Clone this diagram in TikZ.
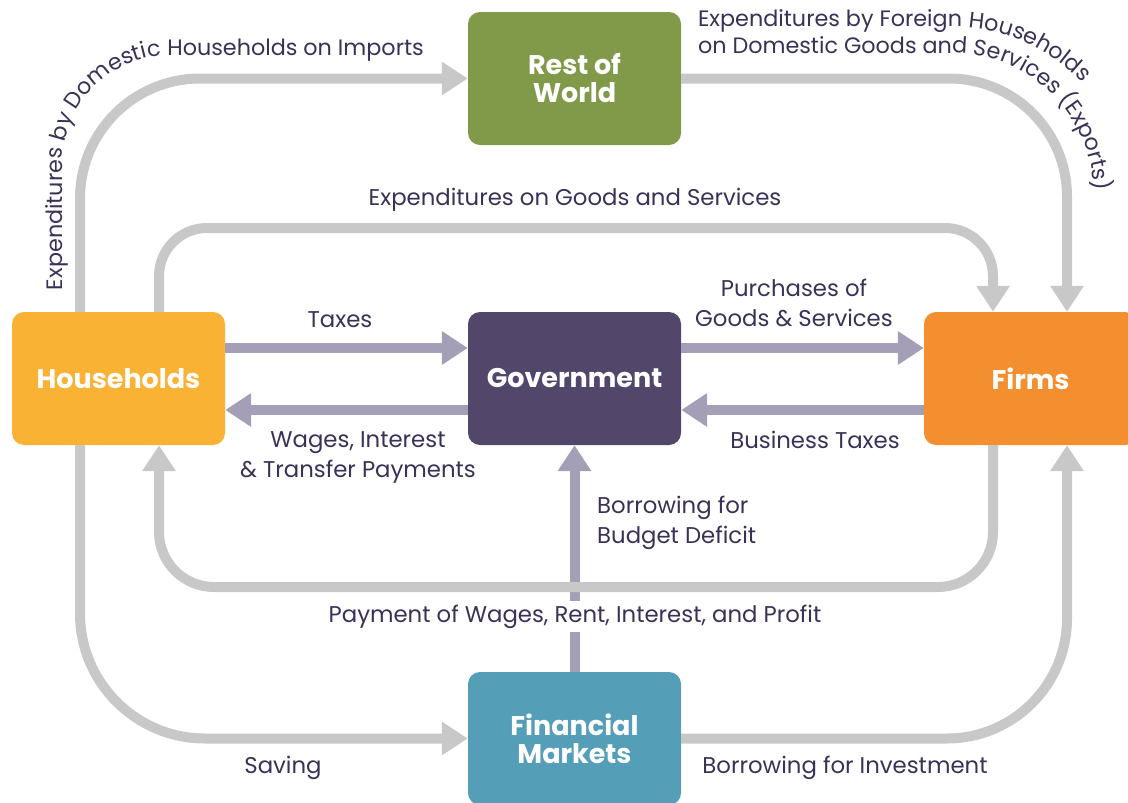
\documentclass[tikz,border=0pt]{standalone}
\usepackage{fontspec}
\setmainfont{Poppins}
\usetikzlibrary{arrows.meta,decorations.text}
\definecolor{hhcol}{HTML}{F9B234}
\definecolor{govcol}{HTML}{52466A}
\definecolor{firmcol}{HTML}{F48F2F}
\definecolor{rowcol}{HTML}{819A4A}
\definecolor{fmcol}{HTML}{549EB7}
\definecolor{flowgray}{HTML}{C8C8C8}
\definecolor{flowpurple}{HTML}{A49EB6}
\definecolor{txtcol}{HTML}{3B3157}
\newcommand{\lblfont}{\fontsize{22.8}{30}\selectfont}
\newcommand{\curvefont}{\fontsize{22.3}{30}\selectfont}
\tikzset{
  sector/.style={rounded corners=12pt, minimum width=213pt, minimum height=133pt, text=white,
    font=\bfseries\fontsize{27}{28}\selectfont, align=center, inner sep=0pt},
  gflow/.style={draw=flowgray, line width=10pt, -{Triangle[length=26pt,width=32pt]}},
  pflow/.style={draw=flowpurple, line width=10pt, -{Triangle[length=26pt,width=32pt]}},
  lbl/.style={text=txtcol, font=\lblfont, align=center, inner sep=1pt},
}
\begin{document}
\begin{tikzpicture}[x=1pt,y=1pt]
\useasboundingbox (0,0) rectangle (1128,-803);
\clip (0,0) rectangle (1128,-803);
% boxes
\node[sector, fill=hhcol] (hh) at (118.5,-378.5) {Households};
\node[sector, fill=govcol] (gov) at (574.5,-378.5) {Government};
\node[sector, fill=firmcol] (firm) at (1030.5,-378.5) {Firms};
\node[sector, fill=rowcol] (row) at (574.5,-78.5) {Rest of\\World};
\node[sector, fill=fmcol] (fm) at (574.5,-738.5) {Financial\\Markets};
% helper coordinates
\coordinate (hhA) at ([xshift=-38.5pt]hh.north);
\coordinate (hhB) at ([xshift=40.5pt]hh.north);
\coordinate (hhAs) at ([xshift=-38.5pt]hh.south);
\coordinate (hhBs) at ([xshift=40.5pt]hh.south);
\coordinate (firmA) at ([xshift=-37.5pt]firm.north);
\coordinate (firmB) at ([xshift=36.5pt]firm.north);
\coordinate (firmAs) at ([xshift=-37.5pt]firm.south);
\coordinate (firmBs) at ([xshift=36.5pt]firm.south);
\coordinate (ytopin) at (0,-228);
\coordinate (ybotin) at (0,-587);
% purple flows
\draw[pflow] ([yshift=30.5pt]hh.east) -- ([yshift=30.5pt]gov.west);
\draw[pflow] ([yshift=-31.5pt]gov.west) -- ([yshift=-31.5pt]hh.east);
\draw[pflow] ([yshift=30.5pt]gov.east) -- ([yshift=30.5pt]firm.west);
\draw[pflow] ([yshift=-31.5pt]firm.west) -- ([yshift=-31.5pt]gov.east);
\draw[pflow] (fm.north) -- (gov.south);
% label over purple vertical
\node[lbl, fill=white, anchor=base, inner sep=4pt] (lpay) at (575,-622) {Payment of Wages, Rent, Interest, and Profit};
% gray flows
\draw[gflow, rounded corners=120pt] (hhA) |- (row.west);
\draw[gflow, rounded corners=118pt] (row.east) -| (firmB);
\draw[gflow, rounded corners=48pt] (hhB) -- (hhB |- ytopin) -- (firmA |- ytopin) -- (firmA);
\draw[gflow, rounded corners=55pt] (firmAs) -- (firmAs |- ybotin) -- (hhBs |- ybotin) -- (hhBs);
\draw[gflow, rounded corners=125pt] (hhAs) |- (fm.west);
\draw[gflow, rounded corners=120pt] (fm.east) -| (firmBs);
% labels (multi-line: base anchor = last line)
\node[lbl, anchor=base] (ltax) at (340,-327) {Taxes};
\node[lbl, anchor=base] (lwag) at (358,-477) {Wages, Interest\\\& Transfer Payments};
\node[lbl, anchor=base] (lpur) at (794,-326) {Purchases of\\Goods \& Services};
\node[lbl, anchor=base] (lbus) at (815,-448) {Business Taxes};
\node[lbl, anchor=base west, align=left] (lbor) at (596,-543) {Borrowing for\\Budget Deficit};
\node[lbl, anchor=base] (lsav) at (283,-773) {Saving};
\node[lbl, anchor=base] (linv) at (845,-773) {Borrowing for Investment};
\node[lbl, anchor=base] (lexp) at (575,-205) {Expenditures on Goods and Services};
% curved labels
\path[decorate, decoration={text along path, text color=txtcol,
  text={|\curvefont|Expenditures by Domestic Households on Imports}}]
  (62,-290) -- (62,-165) arc[start angle=180, end angle=90, radius=110] -- (480,-55);
\path[decorate, decoration={text along path, text color=txtcol,
  text={|\curvefont|Expenditures by Foreign Households}}]
  (698,-27) -- (955,-27) arc[start angle=90, end angle=0, radius=172] -- (1127,-300);
\path[decorate, decoration={text along path, text color=txtcol,
  text={|\curvefont|on Domestic Goods and Services (Exports)}}]
  (698,-53) -- (952,-53) arc[start angle=90, end angle=0, radius=142] -- (1094,-300);
\end{tikzpicture}
\end{document}
